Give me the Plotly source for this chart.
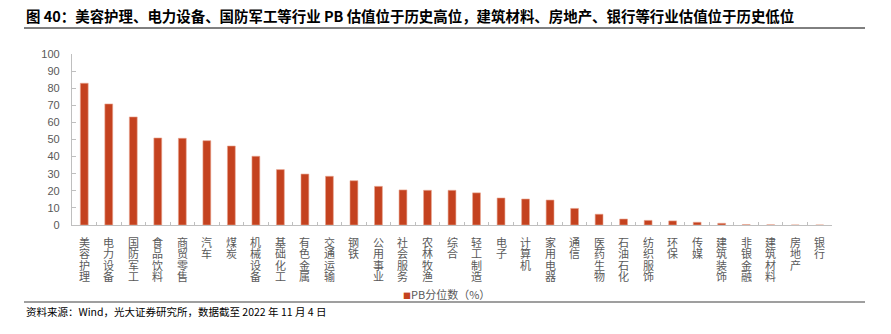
import plotly.graph_objects as go

# Industry PB percentile (%), as of 2022-11-04
categories = [
    "美容护理", "电力设备", "国防军工", "食品饮料", "商贸零售", "汽车", "煤炭",
    "机械设备", "基础化工", "有色金属", "交通运输", "钢铁", "公用事业", "社会服务",
    "农林牧渔", "综合", "轻工制造", "电子", "计算机", "家用电器", "通信", "医药生物",
    "石油石化", "纺织服饰", "环保", "传媒", "建筑装饰", "非银金融", "建筑材料",
    "房地产", "银行",
]
pb_percentile = [
    82.9, 70.8, 63.2, 50.9, 50.7, 49.3, 46.2,
    40.2, 32.4, 29.8, 28.5, 25.9, 22.6, 20.5,
    20.3, 20.3, 18.8, 15.8, 15.2, 14.6, 9.7, 6.3,
    3.5, 2.7, 2.4, 1.6, 1.0, 0.2, 0.1,
    0.0, 0.0,
]
y_ticks = [0, 10, 20, 30, 40, 50, 60, 70, 80, 90, 100]

series_name = "PB分位数（%）"
title_text = "图 40：美容护理、电力设备、国防军工等行业 PB 估值位于历史高位，建筑材料、房地产、银行等行业估值位于历史低位"
source_text = "资料来源：Wind，光大证券研究所，数据截至 2022 年 11 月 4 日"

BAR = "#C4421F"
AXIS = "#BFBFBF"
LABEL = "#595959"
CJK = "Noto Sans CJK SC"
NUM = "Liberation Sans, Arial, sans-serif"

W, H = 891, 334
L, R, T, B = 72, 59, 54, 109
pw, ph = W - L - R, H - T - B


def px_x(px):
    return (px - L) / pw


def px_y(py):
    return (H - B - py) / ph


fig = go.Figure(
    go.Bar(
        x=categories,
        y=pb_percentile,
        name=series_name,
        marker=dict(color=BAR, line=dict(color="#E9A58F", width=0.6)),
        showlegend=False,
    )
)

annotations = []
# vertical category labels: one character per line; the base font size sets
# the line pitch (1.3em), each glyph is drawn at 11px
CH_STEP = 11.4
base_size = CH_STEP / 1.3
for cat in categories:
    stacked = "<br>".join(f"<span style='font-size:11px'>{ch}</span>" for ch in cat)
    annotations.append(dict(
        x=cat, xref="x", y=0, yref="y",
        yshift=-7,
        text=stacked, showarrow=False,
        xanchor="center", yanchor="top",
        font=dict(family=CJK, size=base_size, color=LABEL),
    ))

# title
annotations.append(dict(
    x=px_x(24), xref="paper", y=px_y(15.5), yref="paper",
    text="<b>" + title_text + "</b>", showarrow=False,
    xanchor="left", yanchor="middle",
    font=dict(family=CJK, size=14.45, color="#000000"),
))
# legend
annotations.append(dict(
    x=px_x(446), xref="paper", y=px_y(294), yref="paper",
    text=f"<span style='color:{BAR};font-size:8px'>■</span>{series_name}",
    showarrow=False, xanchor="center", yanchor="middle",
    font=dict(family=CJK, size=11, color=LABEL),
))
# source note
annotations.append(dict(
    x=px_x(24), xref="paper", y=px_y(311), yref="paper",
    text=source_text, showarrow=False,
    xanchor="left", yanchor="middle",
    font=dict(family=CJK, size=10.5, color="#000000"),
))

shapes = [
    dict(type="line", xref="paper", yref="paper",
         x0=px_x(24), x1=px_x(865), y0=px_y(28), y1=px_y(28),
         line=dict(color="#000000", width=1)),
    dict(type="line", xref="paper", yref="paper",
         x0=px_x(24), x1=px_x(865), y0=px_y(302), y1=px_y(302),
         line=dict(color="#404040", width=1.2)),
]

fig.update_layout(
    width=W, height=H,
    margin=dict(l=L, r=R, t=T, b=B, pad=0),
    paper_bgcolor="white", plot_bgcolor="white",
    bargap=0.68,
    annotations=annotations,
    shapes=shapes,
    showlegend=False,
)
fig.update_xaxes(
    type="category", range=[-0.5, len(categories) - 0.5],
    showticklabels=False, showgrid=False, zeroline=False,
    showline=True, linecolor=AXIS, linewidth=1.2,
    ticks="inside", tickson="boundaries", ticklen=3, tickcolor=AXIS,
)
fig.update_yaxes(
    range=[0, 100], tickvals=y_ticks, showgrid=False, zeroline=False,
    showline=True, linecolor=AXIS, linewidth=1.2,
    ticks="inside", ticklen=4, tickcolor=AXIS,
    ticklabelstandoff=9,
    tickfont=dict(family=NUM, size=11, color=LABEL),
)

fig.write_html("out.html")
